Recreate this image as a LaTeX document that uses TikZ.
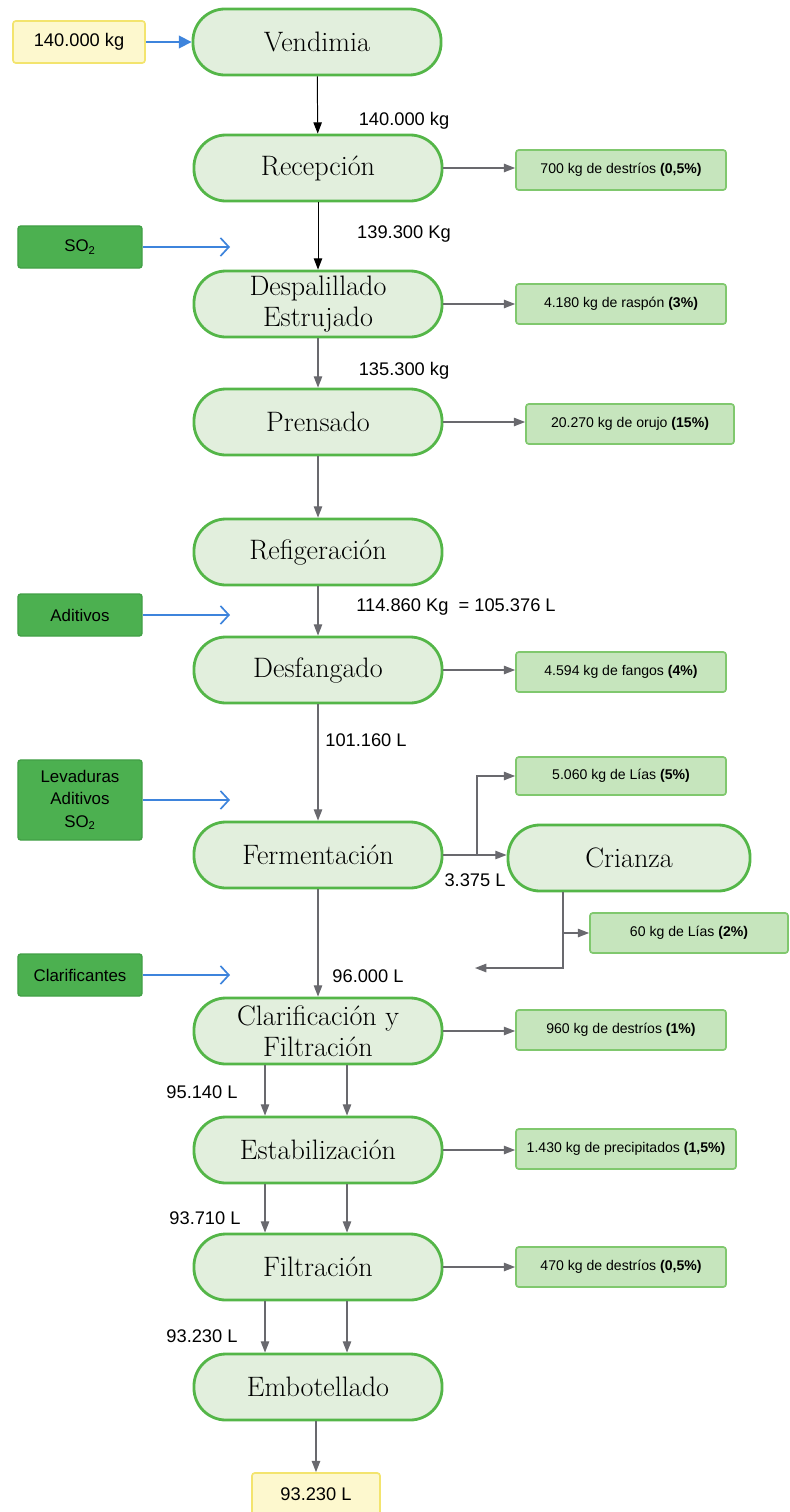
\documentclass[tikz,border=0pt]{standalone}
\usepackage{fontspec}
\setsansfont{Liberation Sans}
\usetikzlibrary{positioning,arrows.meta,calc}
\definecolor{procfill}{RGB}{226,239,221}
\definecolor{procline}{RGB}{84,182,72}
\definecolor{resfill}{RGB}{198,229,189}
\definecolor{resline}{RGB}{128,200,110}
\definecolor{apofill}{RGB}{76,176,80}
\definecolor{apoline}{RGB}{66,160,70}
\definecolor{kgfill}{RGB}{253,248,206}
\definecolor{kgline}{RGB}{243,228,110}
\definecolor{flowgray}{RGB}{105,105,110}
\definecolor{blueline}{RGB}{62,132,220}

\tikzset{
  proceso/.style={draw=procline, line width=2pt, fill=procfill, rounded corners=0.8cm,
    minimum width=6.2cm, minimum height=1.65cm, align=center,
    font=\fontsize{20}{22}\selectfont},
  residuo/.style={draw=resline, line width=1.2pt, fill=resfill, rounded corners=2pt,
    minimum width=5.25cm, minimum height=1cm, font=\sffamily\fontsize{10}{12}\selectfont},
  aporte/.style={draw=apoline, line width=1pt, fill=apofill, rounded corners=2pt,
    minimum width=3.1cm, minimum height=1.05cm, align=center,
    font=\sffamily\fontsize{12}{16}\selectfont},
  cantidad/.style={draw=kgline, line width=1.2pt, fill=kgfill, rounded corners=2pt,
    minimum width=3.3cm, minimum height=1.05cm, font=\sffamily\fontsize{13}{15}\selectfont},
  dato/.style={font=\sffamily\fontsize{13}{15}\selectfont, inner sep=1pt},
  flujo/.style={draw=flowgray, line width=0.9pt, -{Triangle[length=8pt,width=6pt]}},
  flujon/.style={flujo, draw=black, line width=0.7pt, -{Triangle[length=8pt,width=6pt,fill=black]}},
  entrada/.style={draw=blueline, line width=1.2pt, -{Straight Barb[length=6pt,width=13pt]}},
  entradall/.style={draw=blueline, line width=1.2pt, -{Triangle[length=9pt,width=9pt]}},
}

\begin{document}
\begin{tikzpicture}[x=0.025cm, y=-0.025cm]
\useasboundingbox (0,0) rectangle (789,1512);

% Main process line
\node[proceso] (vend) at (317,42) {Vendimia};
\node[proceso] (rec) at (318,168) {Recepción};
\node[proceso] (desp) at (318,304) {Despalillado\\Estrujado};
\node[proceso] (pren) at (318,422) {Prensado};
\node[proceso] (refr) at (318,552) {Refigeración};
\node[proceso] (desf) at (318,670) {Desfangado};
\node[proceso] (ferm) at (318,855) {Fermentación};
\node[proceso, minimum width=6.05cm] (cri) at (629,858) {Crianza};
\node[proceso] (clar) at (318,1031) {Clarificación y\\Filtración};
\node[proceso] (estab) at (318,1150) {Estabilización};
\node[proceso] (filt) at (318,1267) {Filtración};
\node[proceso] (emb) at (318,1387) {Embotellado};

% Quantities in and out
\node[cantidad] (kgin) at (79,42) {140.000 kg};
\node[cantidad, minimum width=3.2cm] (kgout) at (316,1494) {93.230 L};

% Additions
\node[aporte] (so2) at (80,247) {SO\textsubscript{2}};
\node[aporte] (adit) at (80,615) {Aditivos};
\node[aporte, minimum height=2cm] (lev) at (80,800) {Levaduras\\Aditivos\\SO\textsubscript{2}};
\node[aporte] (clarif) at (80,975) {Clarificantes};

% Residues
\node[residuo] (r1) at (621,170) {700 kg de destríos \textbf{(0,5\%)}};
\node[residuo] (r2) at (621,304) {4.180 kg de raspón \textbf{(3\%)}};
\node[residuo, minimum width=5.2cm] (r3) at (630,424) {20.270 kg de orujo \textbf{(15\%)}};
\node[residuo] (r4) at (621,672) {4.594 kg de fangos \textbf{(4\%)}};
\node[residuo, minimum height=0.95cm] (r5) at (621,776) {5.060 kg de Lías \textbf{(5\%)}};
\node[residuo, minimum width=4.95cm] (r6) at (689,933) {60 kg de Lías \textbf{(2\%)}};
\node[residuo] (r7) at (621,1030) {960 kg de destríos \textbf{(1\%)}};
\node[residuo, minimum width=5.5cm] (r8) at (626,1149) {1.430 kg de precipitados \textbf{(1,5\%)}};
\node[residuo] (r9) at (621,1267) {470 kg de destríos \textbf{(0,5\%)}};

% Flow labels
\node[dato] (q1) at (404,121) {140.000 kg};
\node[dato] (q2) at (404,234) {139.300 Kg};
\node[dato] (q3) at (404,371) {135.300 kg};
\node[dato] (q4) at (456,607) {114.860 Kg \ = 105.376 L};
\node[dato] (q5) at (366,740) {101.160 L};
\node[dato] (q6) at (475,880) {3.375 L};
\node[dato] (q7) at (368,976) {96.000 L};
\node[dato] (q8) at (202,1092) {95.140 L};
\node[dato] (q9) at (205,1218) {93.710 L};
\node[dato] (q10) at (202,1336) {93.230 L};

% Helper coordinates
\coordinate (ea) at (230,247);
\coordinate (eb) at (230,615);
\coordinate (ec) at (230,800);
\coordinate (ed) at (230,975);
\coordinate (cl) at (265,0);
\coordinate (cr) at (347,0);
\coordinate (bf) at (477,855);
\coordinate (bc) at (563,0);
\coordinate (rg) at (475,968);

% Vertical flow
\draw[flujon] (vend) -- (rec);
\draw[flujon] (rec) -- (desp);
\draw[flujo] (desp) -- (pren);
\draw[flujo] (pren) -- (refr);
\draw[flujo] (refr) -- (desf);
\draw[flujo] (desf) -- (ferm);
\draw[flujo] (ferm) -- (clar);
\foreach \c in {cl,cr}{
  \draw[flujo] (clar.south -| \c) -- (estab.north -| \c);
  \draw[flujo] (estab.south -| \c) -- (filt.north -| \c);
  \draw[flujo] (filt.south -| \c) -- (emb.north -| \c);
}
\draw[flujo] (emb.south -| kgout) -- (kgout);

% Residue outputs
\foreach \p/\r in {rec/r1, desp/r2, pren/r3, desf/r4, clar/r7, estab/r8, filt/r9}
  \draw[flujo] (\p.east) -- (\p.east -| \r.west);

% Crianza branch
\draw[flujo] (ferm.east) -- (ferm.east -| cri.west);
\draw[flujo] (bf) |- (r5.west);
\draw[flujo] (cri.south -| bc) |- (rg);
\draw[flujo] (r6.west -| bc) -- (r6.west);

% Additions in
\draw[entradall] (kgin) -- (vend);
\draw[entrada] (so2.east) -- (ea);
\draw[entrada] (adit.east) -- (eb);
\draw[entrada] (lev.east) -- (ec);
\draw[entrada] (clarif.east) -- (ed);

\end{tikzpicture}
\end{document}
